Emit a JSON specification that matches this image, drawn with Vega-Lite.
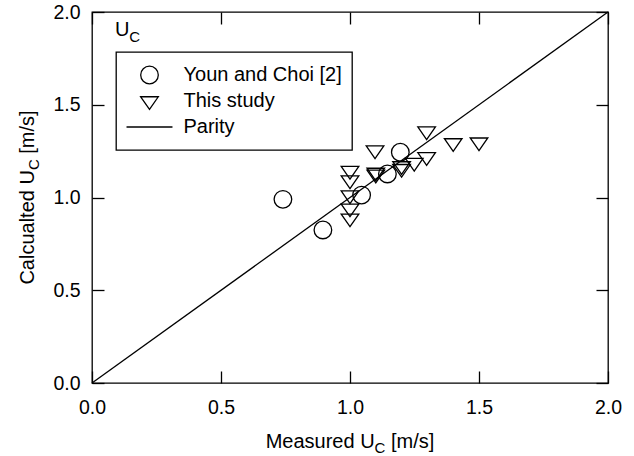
{
  "$schema": "https://vega.github.io/schema/vega-lite/v6.json",
  "width": 516,
  "height": 371,
  "autosize": {"type": "none"},
  "padding": {"left": 92, "top": 12, "right": 26, "bottom": 73},
  "background": "white",
  "config": {
    "font": "Liberation Sans",
    "view": {"stroke": "black", "strokeWidth": 1.3},
    "axis": {
      "grid": false,
      "domain": false,
      "tickColor": "black",
      "tickWidth": 1.3,
      "tickSize": -12,
      "labelColor": "black",
      "labelFont": "Liberation Sans",
      "labelFontSize": 19.5,
      "labelFlush": false,
      "labelOverlap": false
    },
    "legend": {"strokeWidth": 1.3},
    "text": {"font": "Liberation Sans", "color": "black"}
  },
  "layer": [
    {
      "data": {"values": [
        {"measured": 0, "calculated": 0},
        {"measured": 2, "calculated": 2}
      ]},
      "mark": {"type": "line", "color": "black", "strokeWidth": 1.3},
      "encoding": {
        "x": {"field": "measured", "type": "quantitative", "scale": {"domain": [0, 2], "nice": false},
              "axis": {"orient": "bottom", "title": null, "labelPadding": 27, "values": [0, 0.5, 1, 1.5, 2], "format": ".1f", "tickSize": -12}},
        "y": {"field": "calculated", "type": "quantitative", "scale": {"domain": [0, 2], "nice": false},
              "axis": {"orient": "left", "title": null, "labelPadding": 24, "values": [0, 0.5, 1, 1.5, 2], "format": ".1f", "tickSize": -12}}
      }
    },
    {
      "data": {"values": [
        {"series": "Youn and Choi [2]", "measured": 0.74, "calculated": 0.99},
        {"series": "Youn and Choi [2]", "measured": 0.895, "calculated": 0.825},
        {"series": "Youn and Choi [2]", "measured": 1.045, "calculated": 1.013},
        {"series": "Youn and Choi [2]", "measured": 1.145, "calculated": 1.127},
        {"series": "Youn and Choi [2]", "measured": 1.195, "calculated": 1.244},
        {"series": "This study", "measured": 1.297, "calculated": 1.358},
        {"series": "This study", "measured": 1.4, "calculated": 1.294},
        {"series": "This study", "measured": 1.5, "calculated": 1.298},
        {"series": "This study", "measured": 1.097, "calculated": 1.255},
        {"series": "This study", "measured": 1.297, "calculated": 1.219},
        {"series": "This study", "measured": 1.249, "calculated": 1.188},
        {"series": "This study", "measured": 1.2, "calculated": 1.17},
        {"series": "This study", "measured": 1.2, "calculated": 1.155},
        {"series": "This study", "measured": 1.1, "calculated": 1.135},
        {"series": "This study", "measured": 1.1, "calculated": 1.125},
        {"series": "This study", "measured": 1.0, "calculated": 1.145},
        {"series": "This study", "measured": 1.0, "calculated": 1.094},
        {"series": "This study", "measured": 1.0, "calculated": 1.013},
        {"series": "This study", "measured": 1.0, "calculated": 0.942},
        {"series": "This study", "measured": 1.0, "calculated": 0.888}
      ]},
      "mark": {"type": "point", "filled": false, "color": "black", "strokeWidth": 1.3, "opacity": 1, "size": 310},
      "encoding": {
        "x": {"field": "measured", "type": "quantitative", "scale": {"domain": [0, 2], "nice": false},
              "axis": {"orient": "top", "title": null, "labels": false, "values": [0, 0.5, 1, 1.5, 2], "tickSize": -12}},
        "y": {"field": "calculated", "type": "quantitative", "scale": {"domain": [0, 2], "nice": false},
              "axis": {"orient": "right", "title": null, "labels": false, "values": [0, 0.5, 1, 1.5, 2], "tickSize": -12}},
        "shape": {
          "field": "series", "type": "nominal",
          "scale": {"domain": ["Youn and Choi [2]", "This study", "Parity"],
                    "range": ["circle", "M-1,-0.48L0,0.96L1,-0.48Z", "M-2.61,0L2.61,0"]},
          "legend": {"orient": "none", "legendX": 24, "legendY": 40, "title": null, "padding": 10,
                     "strokeColor": "black", "fillColor": "white", "labelFontSize": 20, "labelColor": "black",
                     "labelFont": "Liberation Sans", "clipHeight": 26, "rowPadding": 0, "labelOffset": 24,
                     "symbolOffset": 13.5, "symbolSize": 310,
                     "symbolStrokeColor": "black", "symbolStrokeWidth": 1.3, "symbolFillColor": "transparent",
                     "labelLimit": 400, "direction": "vertical"}
        }
      }
    },
    {
      "data": {"values": [{}]},
      "encoding": {
        "x": {"datum": 1, "type": "quantitative", "scale": {"domain": [0, 2], "nice": false}, "axis": null},
        "y": {"datum": -0.35, "type": "quantitative", "scale": {"domain": [0, 2], "nice": false}, "axis": null}
      },
      "layer": [
        {"mark": {"type": "text", "text": "Measured U", "align": "right", "baseline": "alphabetic", "fontSize": 20, "dx": 24.6}},
        {"mark": {"type": "text", "text": "C", "align": "left", "baseline": "alphabetic", "fontSize": 15, "dx": 24.6, "dy": 5}},
        {"mark": {"type": "text", "text": "[m/s]", "align": "left", "baseline": "alphabetic", "fontSize": 20, "dx": 41}}
      ]
    },
    {
      "data": {"values": [{}]},
      "encoding": {
        "x": {"datum": -0.2248, "type": "quantitative", "scale": {"domain": [0, 2], "nice": false}, "axis": null},
        "y": {"datum": 1, "type": "quantitative", "scale": {"domain": [0, 2], "nice": false}, "axis": null}
      },
      "layer": [
        {"mark": {"type": "text", "text": "Calcualted U", "angle": 270, "align": "right", "baseline": "alphabetic", "fontSize": 20, "dx": 27.4}},
        {"mark": {"type": "text", "text": "C", "angle": 270, "align": "left", "baseline": "alphabetic", "fontSize": 15, "dx": 27.4, "dy": 5}},
        {"mark": {"type": "text", "text": "[m/s]", "angle": 270, "align": "left", "baseline": "alphabetic", "fontSize": 20, "dx": 43.8}}
      ]
    },
    {
      "data": {"values": [{}]},
      "encoding": {
        "x": {"datum": 0.089, "type": "quantitative", "scale": {"domain": [0, 2], "nice": false}, "axis": null},
        "y": {"datum": 1.871, "type": "quantitative", "scale": {"domain": [0, 2], "nice": false}, "axis": null}
      },
      "layer": [
        {"mark": {"type": "text", "text": "U", "align": "left", "baseline": "alphabetic", "fontSize": 20}},
        {"mark": {"type": "text", "text": "C", "align": "left", "baseline": "alphabetic", "fontSize": 15, "dx": 14.4, "dy": 6}}
      ]
    }
  ],
  "resolve": {"axis": {"x": "independent", "y": "independent"}}
}
